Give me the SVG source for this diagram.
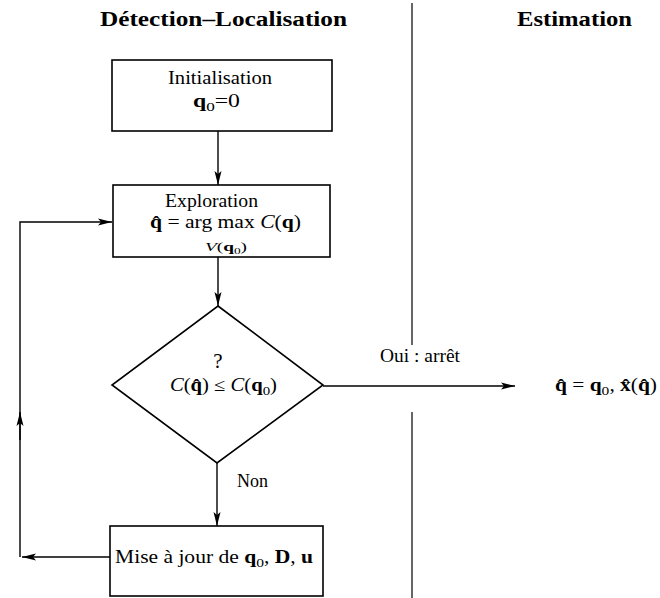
<svg xmlns="http://www.w3.org/2000/svg" width="660" height="598" viewBox="0 0 660 598">
  <defs>
    <marker id="arrow" viewBox="0 0 14 8" refX="14" refY="4" markerWidth="14" markerHeight="8" markerUnits="userSpaceOnUse" orient="auto">
      <path d="M0,0.5 L14,4 L0,7.5 L3,4 Z" fill="#000"/>
    </marker>
    <style>
      text { font-family: "Liberation Serif", "DejaVu Serif", serif; fill: #000; }
      .title { font-size: 20px; font-weight: bold; }
      .lbl { font-size: 18px; }
      .small { font-size: 13px; }
      .b { font-weight: bold; }
      .it { font-style: italic; }
      .box { fill: #fff; stroke: #000; stroke-width: 1.6; }
      .line { fill: none; stroke: #000; stroke-width: 1.4; }
      .div { fill: none; stroke: #000; stroke-width: 1.2; }
    </style>
  </defs>
  <rect width="660" height="598" fill="#fff"/>

  <!-- column headings and separator -->
  <g id="headings">
    <text class="title" x="100" y="26" textLength="247" lengthAdjust="spacingAndGlyphs">Détection–Localisation</text>
    <text class="title" x="517" y="26" textLength="115" lengthAdjust="spacingAndGlyphs">Estimation</text>
    <path class="div" d="M412,3 V345 M412,412 V598"/>
  </g>

  <!-- connectors -->
  <g id="connectors">
    <path class="line" d="M218,131 V185" marker-end="url(#arrow)"/>
    <path class="line" d="M218,257 V306" marker-end="url(#arrow)"/>
    <path class="line" d="M217,463 V526" marker-end="url(#arrow)"/>
    <path class="line" d="M323,386 H515" marker-end="url(#arrow)"/>
    <!-- feedback loop back to the exploration step -->
    <path class="line" d="M110,557 H22" marker-end="url(#arrow)"/>
    <path class="line" d="M20,557 V222 H112" marker-end="url(#arrow)"/>
    <path class="line" d="M20,440 V412" marker-end="url(#arrow)"/>
    <text class="lbl" x="380" y="362" textLength="80" lengthAdjust="spacingAndGlyphs">Oui : arrêt</text>
    <text class="lbl" x="237" y="487" textLength="31" lengthAdjust="spacingAndGlyphs">Non</text>
  </g>

  <g id="init">
    <rect class="box" x="112" y="60" width="220" height="71"/>
    <text class="lbl" x="168" y="84" textLength="104" lengthAdjust="spacingAndGlyphs">Initialisation</text>
    <text class="lbl" x="193" y="107" textLength="47" lengthAdjust="spacingAndGlyphs"><tspan class="b">q</tspan><tspan class="small" dy="4">0</tspan><tspan dy="-4">=0</tspan></text>
  </g>

  <g id="exploration">
    <rect class="box" x="113" y="185" width="217" height="72"/>
    <text class="lbl" x="165" y="207" textLength="93" lengthAdjust="spacingAndGlyphs">Exploration</text>
    <text class="lbl" x="150" y="228" textLength="151" lengthAdjust="spacingAndGlyphs"><tspan class="b">q̂</tspan> = arg max <tspan class="it">C</tspan>(<tspan class="b">q</tspan>)</text>
    <text class="small" x="205" y="251" textLength="42" lengthAdjust="spacingAndGlyphs"><tspan class="it">V</tspan>(<tspan class="b">q</tspan><tspan font-size="9" dy="3">0</tspan><tspan dy="-3">)</tspan></text>
  </g>

  <g id="test">
    <path class="box" d="M218,306 L323,385 L217,463 L112,385 Z"/>
    <text x="218" y="368" text-anchor="middle" font-size="21">?</text>
    <text class="lbl" x="170" y="391" textLength="107" lengthAdjust="spacingAndGlyphs"><tspan class="it">C</tspan>(<tspan class="b">q̂</tspan>) ≤ <tspan class="it">C</tspan>(<tspan class="b">q</tspan><tspan class="small" dy="4">0</tspan><tspan dy="-4">)</tspan></text>
  </g>

  <g id="update">
    <rect class="box" x="110" y="526" width="213" height="70"/>
    <text class="lbl" x="115" y="563" textLength="198" lengthAdjust="spacingAndGlyphs">Mise à jour de <tspan class="b">q</tspan><tspan class="small" dy="4">0</tspan><tspan dy="-4">, </tspan><tspan class="b">D</tspan>, <tspan class="b">u</tspan></text>
  </g>

  <g id="result">
    <text class="lbl" x="555" y="391" textLength="102" lengthAdjust="spacingAndGlyphs"><tspan class="b">q̂</tspan> = <tspan class="b">q</tspan><tspan class="small" dy="4">0</tspan><tspan dy="-4">, </tspan><tspan class="b">x̂</tspan>(<tspan class="b">q̂</tspan>)</text>
  </g>
</svg>
